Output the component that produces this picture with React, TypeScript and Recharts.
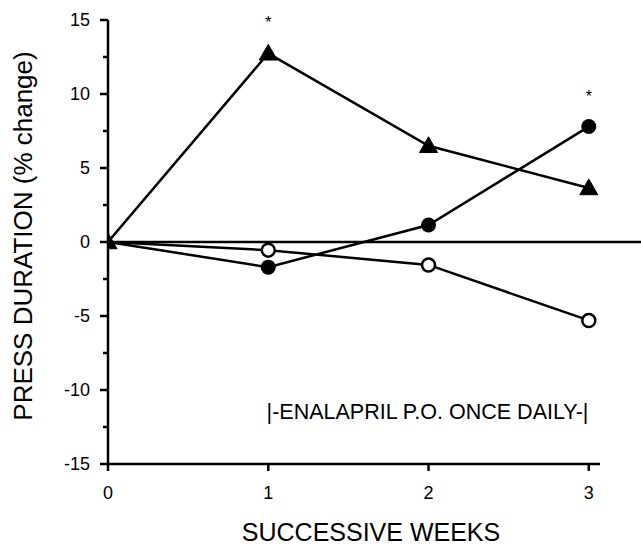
import {
  LineChart,
  Line,
  XAxis,
  YAxis,
  ReferenceLine,
  ReferenceDot,
} from "recharts";

const weeks = [0, 1, 2, 3];
const triangleGroup = [0, 12.75, 6.5, 3.65];
const filledGroup = [0, -1.7, 1.15, 7.8];
const openGroup = [0, -0.55, -1.55, -5.3];
// asterisks marking significant weeks (week, height)
const sigWeeks = [1, 3];
const sigHeights = [15.1, 10.05];

const yTicks = [-15, -12.5, -10, -7.5, -5, -2.5, 0, 2.5, 5, 7.5, 10, 12.5, 15];
const xTicks = [0, 1, 2, 3];

const data = weeks.map((w, i) => ({
  week: w,
  tri: triangleGroup[i],
  filled: filledGroup[i],
  open: openGroup[i],
}));

const FONT = "'Liberation Sans', Arial, Helvetica, sans-serif";

function YTick(props: any) {
  const { x, y, payload } = props;
  const v = payload.value as number;
  const major = v % 5 === 0;
  return (
    <g>
      <line x1={x + 8 - (major ? 8 : 5)} x2={x + 8} y1={y} y2={y} stroke="#000" strokeWidth={2.5} />
      {major && (
        <text x={x - 10} y={y} textAnchor="end" dominantBaseline="central" fontSize={18} fontFamily={FONT} fill="#000">
          {v}
        </text>
      )}
    </g>
  );
}

function XTick(props: any) {
  const { x, y, payload } = props;
  return (
    <g>
      <line x1={x} x2={x} y1={y - 8} y2={y - 1} stroke="#000" strokeWidth={2.5} />
      <text x={x} y={y + 21} textAnchor="middle" dominantBaseline="central" fontSize={18} fontFamily={FONT} fill="#000">
        {payload.value}
      </text>
    </g>
  );
}

function TriangleDot(props: any) {
  const { cx, cy, index } = props;
  if (cx == null || cy == null) return <g key={index} />;
  const s = 9;
  return (
    <path
      key={index}
      d={`M${cx},${cy - s} L${cx + s},${cy + s * 0.75} L${cx - s},${cy + s * 0.75} Z`}
      fill="#000"
      stroke="#000"
      strokeWidth={1}
      strokeLinejoin="round"
    />
  );
}

function FilledDot(props: any) {
  const { cx, cy, index } = props;
  if (cx == null || cy == null || index === 0) return <g key={index} />;
  return <circle key={index} cx={cx} cy={cy} r={7.5} fill="#000" />;
}

function OpenDot(props: any) {
  const { cx, cy, index } = props;
  if (cx == null || cy == null || index === 0) return <g key={index} />;
  return <circle key={index} cx={cx} cy={cy} r={6.5} fill="#fff" stroke="#000" strokeWidth={2.5} />;
}

function Star(props: any) {
  const { cx, cy } = props;
  if (cx == null || cy == null) return <g />;
  return (
    <text x={cx} y={cy + 9} textAnchor="middle" fontSize={16} fontFamily={FONT} fill="#000">
      *
    </text>
  );
}

export default function App() {
  return (
    <div style={{ position: "absolute", left: 0, top: 0, background: "#fff" }}>
      <LineChart
        width={641}
        height={547}
        data={data}
        margin={{ top: 20, right: 41, bottom: 0, left: 0 }}
      >
        <XAxis
          dataKey="week"
          type="number"
          domain={[0, 3.07]}
          ticks={xTicks}
          tick={<XTick />}
          tickLine={false}
          axisLine={{ stroke: "#000", strokeWidth: 2.5 }}
          height={83}
          allowDataOverflow
        />
        <YAxis
          type="number"
          domain={[-15, 15]}
          ticks={yTicks}
          interval={0}
          tick={<YTick />}
          tickLine={false}
          axisLine={{ stroke: "#000", strokeWidth: 2.5 }}
          width={108}
        />
        <ReferenceLine
          segment={[
            { x: 0, y: 0 },
            { x: 3.33, y: 0 },
          ]}
          stroke="#000"
          strokeWidth={2.5}
          ifOverflow="visible"
        />
        <Line
          dataKey="open"
          stroke="#000"
          strokeWidth={2.5}
          dot={<OpenDot />}
          activeDot={false}
          isAnimationActive={false}
        />
        <Line
          dataKey="filled"
          stroke="#000"
          strokeWidth={2.5}
          dot={<FilledDot />}
          activeDot={false}
          isAnimationActive={false}
        />
        <Line
          dataKey="tri"
          stroke="#000"
          strokeWidth={2.5}
          dot={<TriangleDot />}
          activeDot={false}
          isAnimationActive={false}
        />
        {sigWeeks.map((w, i) => (
          <ReferenceDot
            key={w}
            x={w}
            y={sigHeights[i]}
            ifOverflow="visible"
            shape={<Star />}
          />
        ))}
        <text x={427.5} y={412} textAnchor="middle" dominantBaseline="central" fontSize={21.5} fontFamily={FONT} fill="#000">
          |-ENALAPRIL P.O. ONCE DAILY-|
        </text>
        <text x={371} y={532} textAnchor="middle" dominantBaseline="central" fontSize={25} fontFamily={FONT} fill="#000">
          SUCCESSIVE WEEKS
        </text>
        <text
          x={23}
          y={236}
          transform="rotate(-90 23 236)"
          textAnchor="middle"
          dominantBaseline="central"
          fontSize={26}
          fontFamily={FONT}
          fill="#000"
        >
          PRESS DURATION (% change)
        </text>
      </LineChart>
    </div>
  );
}
